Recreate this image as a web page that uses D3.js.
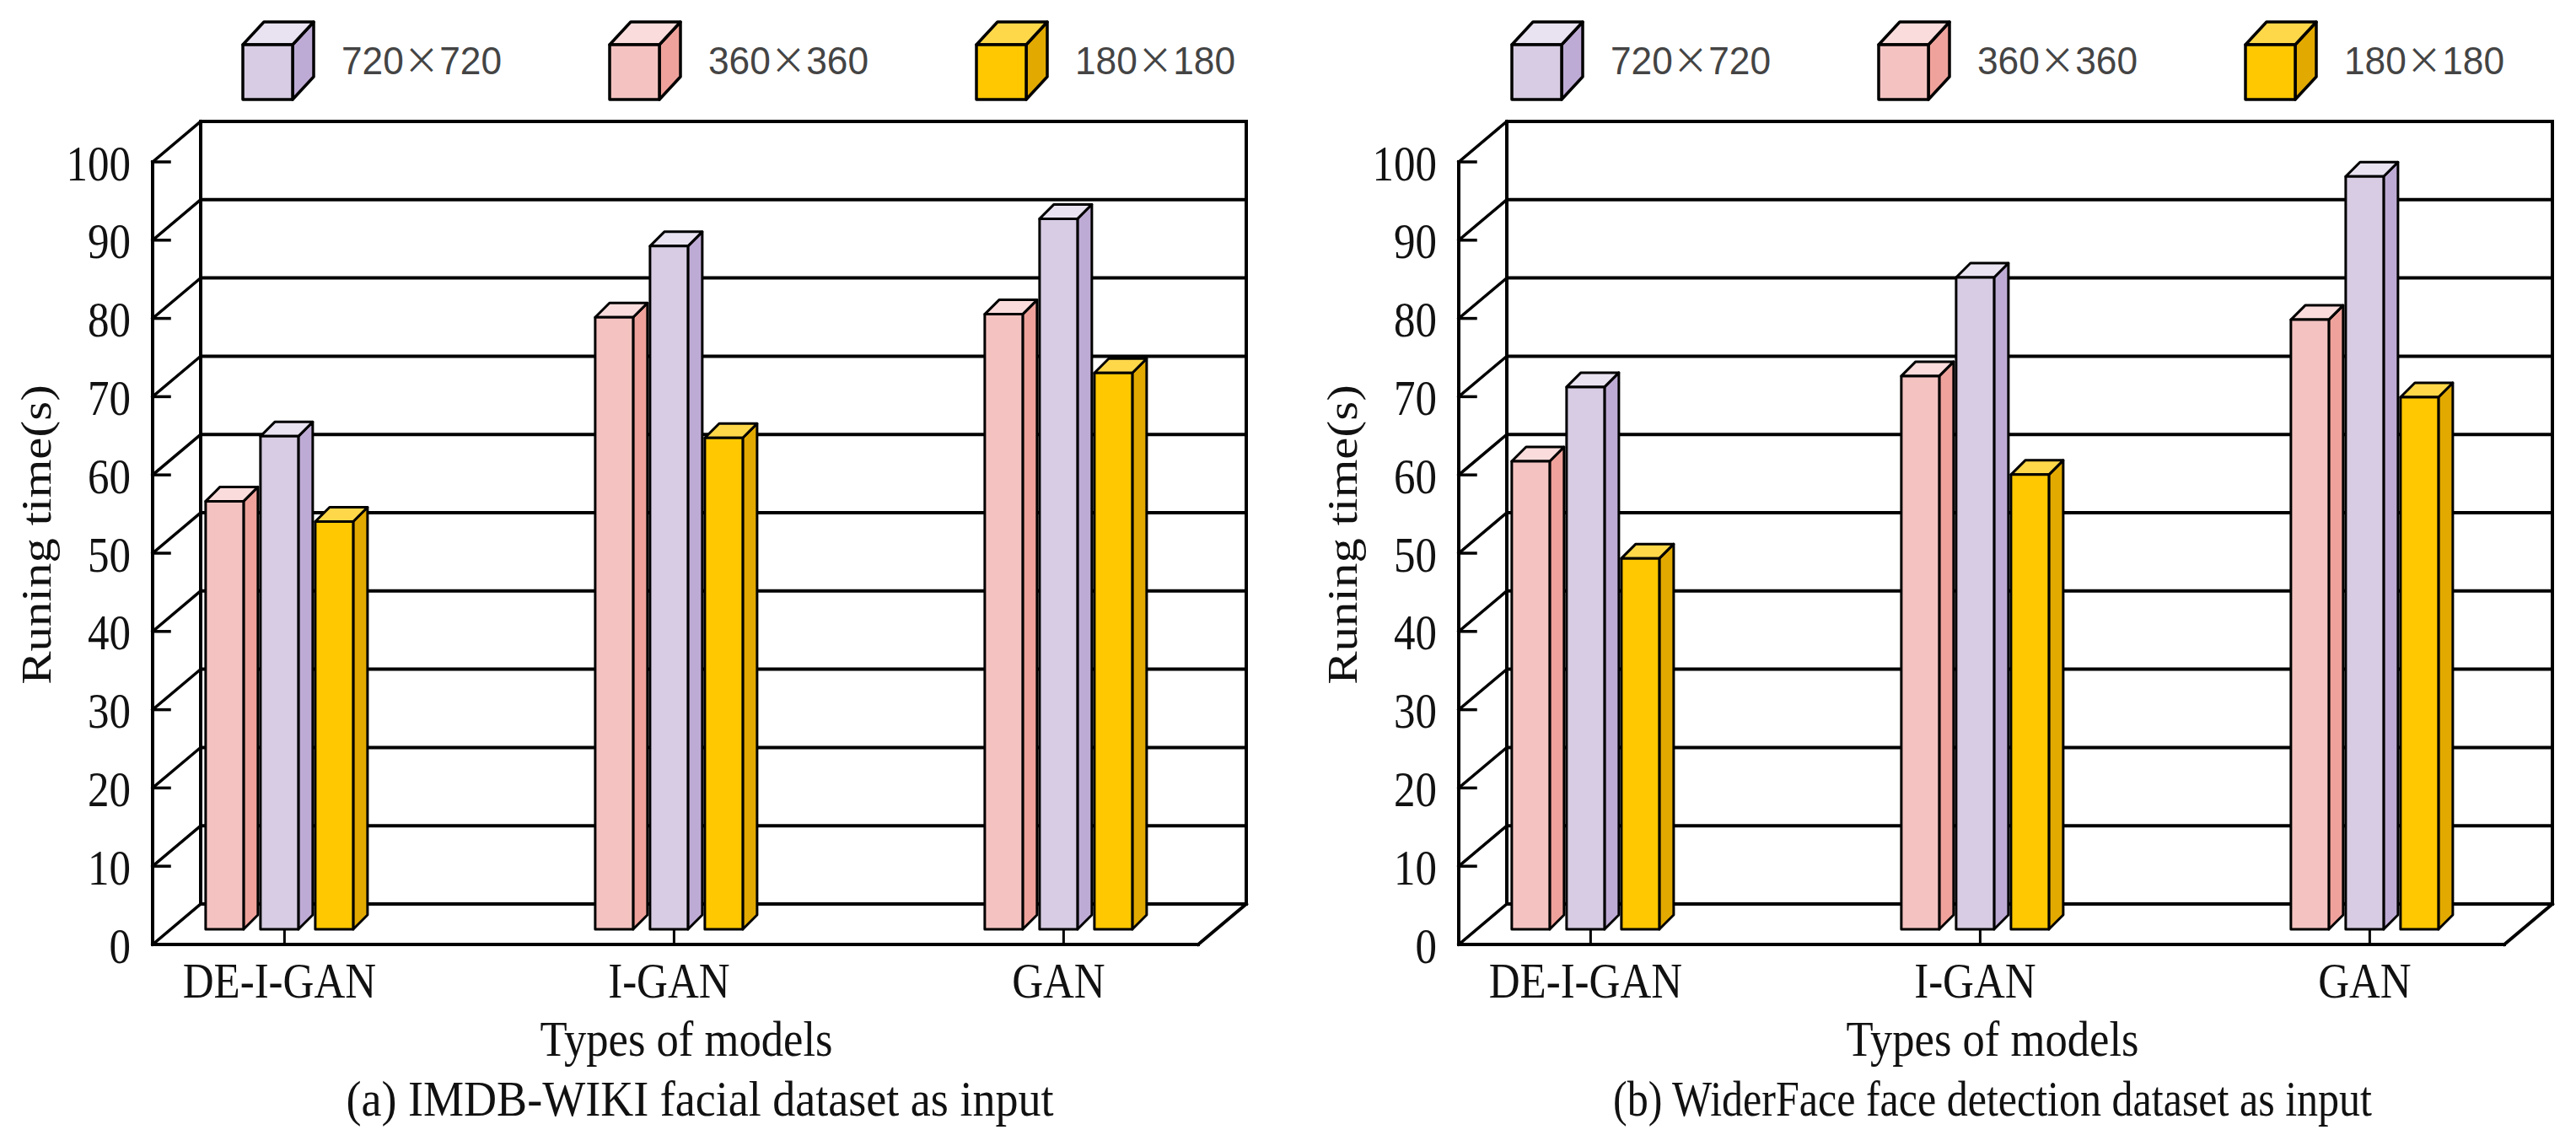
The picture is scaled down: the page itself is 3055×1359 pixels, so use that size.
<!DOCTYPE html>
<html><head><meta charset="utf-8">
<script src="https://cdn.jsdelivr.net/npm/d3@7"></script>
<style>body{margin:0;background:#fff}svg{display:block}</style>
</head><body>
<svg id="c" width="3055" height="1359"></svg>
<script>
// ---- data ----
const categories = ["DE-I-GAN", "I-GAN", "GAN"];
const legendSeries = ["720×720", "360×360", "180×180"];
const barSeries = ["360×360", "720×720", "180×180"];
const a720 = [63.0, 87.3, 90.8];
const a360 = [54.7, 78.2, 78.6];
const a180 = [52.1, 62.8, 71.1];
const b720 = [69.3, 83.3, 96.2];
const b360 = [59.8, 70.7, 77.9];
const b180 = [47.4, 58.1, 68.0];
const yTicks = [0, 10, 20, 30, 40, 50, 60, 70, 80, 90, 100];
const yTitle = "Runing time(s)";
const xTitle = "Types of models";
const captionA = "(a) IMDB-WIKI facial dataset as input";
const captionB = "(b) WiderFace face detection dataset as input";

const colors = {
  "720×720": {front: "#D7CCE3", side: "#BEABD5", top: "#E9E3F1"},
  "360×360": {front: "#F4C3C1", side: "#EFA29B", top: "#F9DCDB"},
  "180×180": {front: "#FFC800", side: "#E2A900", top: "#FFD84A"}
};

const svg = d3.select("#c");
svg.append("rect").attr("width", 3055).attr("height", 1359).attr("fill", "#fff");
const SERIF = "'Liberation Serif','Times New Roman',serif";
const SANS = "'Liberation Sans',Arial,sans-serif";
const CJK = "'Noto Sans CJK SC',sans-serif";
const SX = 0.85;

function poly(g, pts, fill, sw) {
  g.append("polygon").attr("points", pts.map(p => p.join(",")).join(" "))
    .attr("fill", fill).attr("stroke", "#000").attr("stroke-width", sw)
    .attr("stroke-linejoin", "round");
}
function line(g, p, q, sw) {
  g.append("line").attr("x1", p[0]).attr("y1", p[1]).attr("x2", q[0]).attr("y2", q[1])
    .attr("stroke", "#000").attr("stroke-width", sw).attr("stroke-linecap", "square");
}

function drawPanel(ox, sets, legendX, titleCX, captionCX, caption, capLen) {
  const g = svg.append("g");
  const X0 = ox + 181, X1 = ox + 1421;
  const DX = 57, DY = 48, Z0 = 0.375, BD = 17;
  const y = d3.scaleLinear().domain([0, 100]).range([1120, 192]);
  const x = d3.scalePoint().domain(categories).range([X0 + 129, X0 + 1053]);
  const inner = d3.scaleBand().domain(barSeries).range([-87.5, 87.5]).paddingInner(0.308);
  const P = (px, v, z) => [px + z * DX, y(v) - z * DY];

  // back wall gridlines & edges
  yTicks.forEach(t => line(g, P(X0, t, 1), P(X1, t, 1), 4));
  line(g, P(X0, 0, 1), P(X0, 100, 1), 4);
  line(g, P(X1, 0, 1), P(X1, 100, 1), 4);
  // left wall diagonals and front axis
  yTicks.forEach(t => {
    line(g, P(X0, t, 0), P(X0, t, 1), 3.5);
    line(g, P(X0, t, 0), [X0 + 20, y(t)], 3.5);
  });
  line(g, P(X0, 0, 0), P(X0, 100, 0), 4);
  // floor
  line(g, P(X0, 0, 0), P(X1, 0, 0), 4);
  line(g, P(X1, 0, 0), P(X1, 0, 1), 4);

  // tick labels
  yTicks.forEach(t => {
    g.append("text").attr("transform", `translate(${ox + 155},${y(t)}) scale(${SX},1)`)
      .attr("dy", "0.36em").attr("text-anchor", "end")
      .attr("font-family", SERIF).attr("font-size", 60).attr("fill", "#111").text(t);
  });

  // category ticks
  categories.forEach(c => {
    const cx = x(c) + Z0 * DX + 6;
    line(g, [cx, y(0)], [cx, y(0) - 20], 3);
  });

  // bars
  const vals = {"720×720": sets[0], "360×360": sets[1], "180×180": sets[2]};
  categories.forEach((c, i) => {
    barSeries.forEach(s => {
      const v = vals[s][i];
      const col = colors[s];
      const l = x(c) + inner(s) + Z0 * DX, w = inner.bandwidth();
      const top = y(v) - Z0 * DY, bot = y(0) - Z0 * DY;
      poly(g, [[l + w, top], [l + w + BD, top - BD], [l + w + BD, bot - BD], [l + w, bot]], col.side, 3);
      poly(g, [[l, top], [l + BD, top - BD], [l + w + BD, top - BD], [l + w, top]], col.top, 3);
      poly(g, [[l, top], [l + w, top], [l + w, bot], [l, bot]], col.front, 3);
    });
    g.append("text").attr("transform", `translate(${x(c) + Z0 * DX},1183) scale(${SX},1)`)
      .attr("text-anchor", "middle").attr("font-family", SERIF).attr("font-size", 60)
      .attr("fill", "#111").text(c);
  });

  // y title
  g.append("text").attr("transform", `translate(${ox + 60},634) scale(${SX},1) rotate(-90)`)
    .attr("text-anchor", "middle").attr("font-family", SERIF).attr("font-size", 59)
    .attr("fill", "#111").text(yTitle);
  // x title
  g.append("text").attr("x", titleCX).attr("y", 1252).attr("text-anchor", "middle")
    .attr("font-family", SERIF).attr("font-size", 59).attr("fill", "#111")
    .attr("textLength", 347).attr("lengthAdjust", "spacingAndGlyphs").text(xTitle);
  // caption
  g.append("text").attr("x", captionCX).attr("y", 1323).attr("text-anchor", "middle")
    .attr("font-family", SERIF).attr("font-size", 60).attr("fill", "#111")
    .attr("textLength", capLen).attr("lengthAdjust", "spacingAndGlyphs").text(caption);

  // legend
  legendSeries.forEach((s, k) => {
    const bx = legendX + k * 435, by = 53, bw = 59, bh = 65, ddx = 25, ddy = 27;
    const col = colors[s];
    poly(g, [[bx + bw, by], [bx + bw + ddx, by - ddy], [bx + bw + ddx, by + bh - ddy], [bx + bw, by + bh]], col.side, 3.5);
    poly(g, [[bx, by], [bx + ddx, by - ddy], [bx + bw + ddx, by - ddy], [bx + bw, by]], col.top, 3.5);
    poly(g, [[bx, by], [bx + bw, by], [bx + bw, by + bh], [bx, by + bh]], col.front, 3.5);
    const parts = s.split("×");
    const t = g.append("text").attr("x", bx + 117).attr("y", 88).attr("font-family", SANS)
      .attr("font-size", 46).attr("fill", "#444")
      .attr("textLength", 190).attr("lengthAdjust", "spacingAndGlyphs");
    t.append("tspan").text(parts[0]);
    t.append("tspan").attr("font-family", CJK).attr("font-size", 44).text("×");
    t.append("tspan").text(parts[1]);
  });
}

drawPanel(0, [a720, a360, a180], 288, 814, 830, captionA, 839);
drawPanel(1549, [b720, b360, b180], 1793, 2363, 2363, captionB, 900);
</script>
</body></html>
